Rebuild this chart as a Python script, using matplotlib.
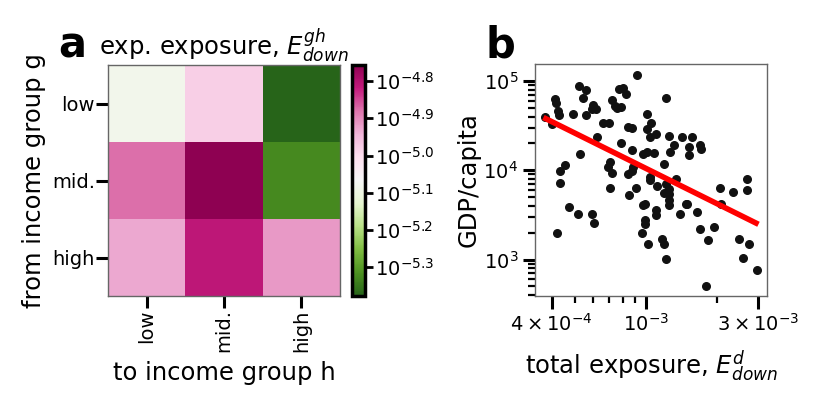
import numpy as np
import matplotlib
matplotlib.use("Agg")
import matplotlib.pyplot as plt
from matplotlib.ticker import FuncFormatter, NullFormatter, LogLocator

# --- panel a: expected exposure (log10 values), rows = from group, cols = to group
groups = ["low", "mid.", "high"]
log_exposure = np.array([
    [-5.084, -4.980, -5.377],
    [-4.877, -4.757, -5.324],
    [-4.931, -4.812, -4.915],
])
cbar_ticks = [-4.8, -4.9, -5.0, -5.1, -5.2, -5.3]

# --- panel b: total exposure vs GDP per capita
exposure = [
    9.16e-4, 5.22e-4, 5.57e-4, 5.44e-4, 4.13e-4, 4.16e-4, 7.71e-4, 8.04e-4, 8.23e-4, 7.18e-4,
    6.00e-4, 5.94e-4, 6.14e-4, 7.42e-4, 7.86e-4, 7.54e-4, 4.24e-4, 4.29e-4, 4.94e-4, 5.57e-4,
    1.01e-3, 3.74e-4, 4.00e-4, 6.62e-4, 6.99e-4, 8.44e-4, 8.78e-4, 1.01e-3, 1.22e-3, 1.05e-3,
    1.10e-3, 1.04e-3, 6.20e-4, 7.86e-4, 1.25e-3, 1.43e-3, 1.57e-3, 1.32e-3, 1.27e-3, 1.52e-3,
    1.52e-3, 1.69e-3, 1.72e-3, 8.72e-4, 1.08e-3, 9.78e-4, 1.01e-3, 5.27e-4, 1.20e-3, 4.55e-4,
    4.34e-4, 7.06e-4, 6.95e-4, 7.18e-4, 8.87e-4, 8.78e-4, 8.44e-4, 1.04e-3, 1.04e-3, 1.34e-3,
    2.69e-3, 2.69e-3, 4.34e-4, 7.06e-4, 9.07e-4, 8.50e-4, 1.12e-3, 1.22e-3, 1.26e-3, 1.20e-3,
    1.26e-3, 2.07e-3, 2.34e-3, 1.26e-3, 1.25e-3, 1.48e-3, 1.50e-3, 2.09e-3, 4.73e-4, 5.19e-4,
    5.90e-4, 6.06e-4, 9.94e-4, 9.78e-4, 9.94e-4, 9.94e-4, 1.10e-3, 1.11e-3, 1.40e-3, 1.65e-3,
    4.20e-4, 9.62e-4, 1.02e-3, 1.70e-3, 1.95e-3, 1.17e-3, 1.20e-3, 1.83e-3, 2.48e-3, 2.73e-3,
    1.22e-3, 2.58e-3, 2.95e-3, 1.80e-3,
]
gdp = [
    1.16e5, 8.68e4, 7.89e4, 6.53e4, 6.26e4, 5.74e4, 8.10e4, 8.31e4, 7.24e4, 6.15e4,
    5.40e4, 4.83e4, 4.83e4, 5.27e4, 5.13e4, 4.96e4, 4.63e4, 4.17e4, 4.32e4, 4.17e4,
    4.32e4, 3.90e4, 3.28e4, 3.34e4, 3.42e4, 3.06e4, 3.01e4, 2.88e4, 6.53e4, 3.34e4,
    2.58e4, 2.33e4, 2.36e4, 2.01e4, 2.39e4, 2.33e4, 2.33e4, 1.91e4, 1.62e4, 1.80e4,
    1.49e4, 1.92e4, 1.72e4, 1.69e4, 1.58e4, 1.54e4, 1.62e4, 1.54e4, 1.17e4, 1.15e4,
    9.83e3, 1.24e4, 1.09e4, 9.41e3, 1.09e4, 9.83e3, 9.02e3, 8.42e3, 7.73e3, 7.99e3,
    7.99e3, 6.07e3, 7.21e3, 6.39e3, 6.28e3, 5.34e3, 6.67e3, 7.09e3, 6.23e3, 5.57e3,
    5.47e3, 6.34e3, 5.71e3, 4.69e3, 4.12e3, 4.23e3, 4.23e3, 4.23e3, 3.88e3, 3.21e3,
    3.21e3, 2.57e3, 4.16e3, 4.05e3, 2.80e3, 2.52e3, 3.56e3, 3.13e3, 3.27e3, 3.41e3,
    2.00e3, 2.00e3, 1.51e3, 2.18e3, 2.31e3, 1.71e3, 1.48e3, 1.67e3, 1.68e3, 1.51e3,
    1.02e3, 1.05e3, 769, 500,
]
fit_x = [3.69e-4, 3.0e-3]
fit_y = [3.90e4, 2.48e3]

W, H = 830, 416
fig = plt.figure(figsize=(W / 100, H / 100), dpi=100)

def box(l, t, r, b):
    return [l / W, 1 - b / H, (r - l) / W, (b - t) / H]

LBL = 17.5
TCK = 14
SPINE = "0.4"

# ---------------- panel a ----------------
ax = fig.add_axes(box(108, 65, 340, 296))
im = ax.imshow(log_exposure, cmap="PiYG_r", aspect="auto")
ax.set_xticks(range(3), groups, rotation=90)
ax.set_yticks(range(3), groups)
ax.tick_params(length=8.5, width=2.2, labelsize=TCK, pad=1)
for s in ax.spines.values():
    s.set_color(SPINE)
    s.set_linewidth(1.0)
ax.set_xlabel("to income group h", fontsize=LBL, labelpad=6)
ax.set_ylabel("from income group g", fontsize=LBL, labelpad=4)
ax.set_title(r"exp. exposure, $E^{gh}_{down}$", fontsize=LBL, pad=3)

cax = fig.add_axes(box(352, 65, 365, 296))
cb = fig.colorbar(im, cax=cax, ticks=cbar_ticks)
cb.ax.yaxis.set_major_formatter(FuncFormatter(lambda v, p: r"$10^{%.1f}$" % v))
cb.ax.tick_params(length=6, width=2, labelsize=TCK, pad=1)
cb.outline.set_linewidth(2.5)

# ---------------- panel b ----------------
bx = fig.add_axes(box(535, 64, 767, 296))
bx.scatter(exposure, gdp, s=30, color="#111111", zorder=2)
bx.plot(fit_x, fit_y, color="red", lw=4, zorder=3, solid_capstyle="butt")
bx.set_xscale("log")
bx.set_yscale("log")
bx.set_xlim(3.4e-4, 3.26e-3)
bx.set_ylim(390, 1.55e5)
bx.set_xticks([4e-4, 1e-3, 3e-3],
              [r"$4\times10^{-4}$", r"$10^{-3}$", r"$3\times10^{-3}$"])
bx.xaxis.set_minor_locator(LogLocator(base=10, subs=np.arange(2, 10)))
bx.xaxis.set_minor_formatter(NullFormatter())
bx.yaxis.set_minor_formatter(NullFormatter())
bx.tick_params(which="major", length=9, width=2.2, labelsize=TCK, pad=3)
bx.tick_params(which="minor", length=5, width=1.6)
for s in bx.spines.values():
    s.set_color(SPINE)
    s.set_linewidth(1.0)
bx.set_xlabel(r"total exposure, $E^{d}_{down}$", fontsize=LBL, labelpad=10)
bx.set_ylabel("GDP/capita", fontsize=LBL, labelpad=2)

fig.text(58 / W, 1 - 57 / H, "a", fontsize=30, fontweight="bold", va="baseline")
fig.text(485 / W, 1 - 57 / H, "b", fontsize=30, fontweight="bold", va="baseline")

fig.savefig("out.png", dpi=100)
